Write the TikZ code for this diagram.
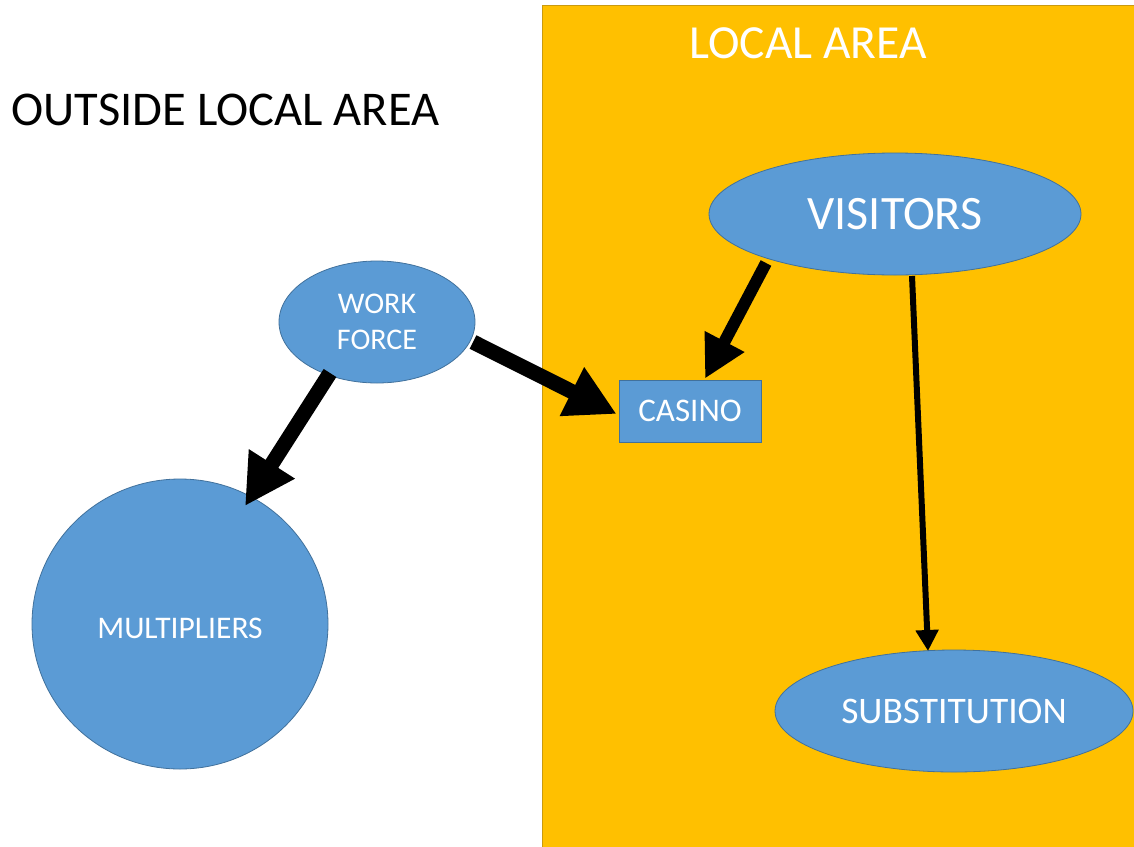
\documentclass[tikz,border=0pt]{standalone}
\usepackage{fontspec}
\setmainfont{Carlito}
\usetikzlibrary{shapes.geometric,arrows.meta,calc}
\definecolor{bluefill}{HTML}{5B9BD5}
\definecolor{blueline}{HTML}{41719C}
\definecolor{orangefill}{HTML}{FFC000}
\definecolor{orangeline}{HTML}{C99A10}
\tikzset{
  blob/.style={ellipse, fill=bluefill, draw=blueline, line width=0.8pt, inner sep=0pt, text=white},
  boxnode/.style={rectangle, fill=bluefill, draw=blueline, line width=0.8pt, inner sep=0pt, text=white},
  bigarrow/.style={line width=15pt, -{Triangle[length=50pt,width=51pt]}},
  midarrow/.style={line width=12pt, -{Triangle[length=42pt,width=42pt]}},
  thinarrow/.style={line width=6pt, -{Triangle[length=21pt,width=22pt]}},
}
\begin{document}
\begin{tikzpicture}[x=1pt,y=-1pt]
\clip (0,0) rectangle (1134,846);
\fill[white] (0,0) rectangle (1134,846);
% local area region
\draw[fill=orangefill, draw=orangeline, line width=0.8pt] (542,5) rectangle (1150,860);
\node[text=white, font=\fontsize{47.5}{56}\selectfont] (localtitle) at (808,43) {LOCAL AREA};
\node[text=black, font=\fontsize{48.5}{58}\selectfont] (outsidetitle) at (225.5,110) {OUTSIDE LOCAL AREA};
% nodes
\node[blob, minimum width=372pt, minimum height=122pt, font=\fontsize{48}{56}\selectfont] (vis) at (895,214) {VISITORS};
\node[blob, minimum width=196pt, minimum height=122pt, align=center, font=\fontsize{30}{36}\selectfont] (wf) at (377,322) {\raisebox{-2pt}{WORK}\\\raisebox{-2pt}{FORCE}};
\node[boxnode, minimum width=142pt, minimum height=62pt, font=\fontsize{33}{39}\selectfont] (cas) at (690,411) {CASINO};
\node[blob, minimum width=296pt, minimum height=290pt, font=\fontsize{31.5}{37}\selectfont] (mult) at (180,624) {\raisebox{-14pt}[0pt][0pt]{MULTIPLIERS}};
\node[blob, minimum width=358pt, minimum height=122pt, font=\fontsize{37.5}{44}\selectfont] (sub) at (954,711) {SUBSTITUTION};
% connectors
\draw[bigarrow] ($(wf.center)+(-47,51)$) -- ($(mult.center)+(65,-118)$);
\draw[bigarrow] ($(wf.center)+(96,20)$) -- ($(cas.west)+(-2,3)$);
\draw[midarrow] ($(vis.center)+(-129,49)$) -- ($(cas.north)+(15,-1)$);
\draw[thinarrow] ($(vis.center)+(17,62)$) -- ($(sub.center)+(-26,-60)$);
\end{tikzpicture}
\end{document}
